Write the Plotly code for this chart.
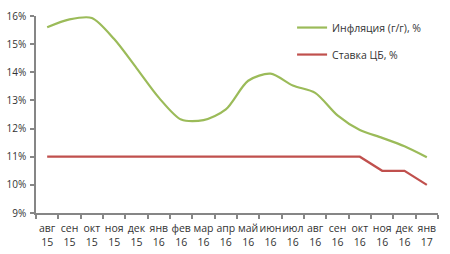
import plotly.graph_objects as go

months = ["авг", "сен", "окт", "ноя", "дек", "янв", "фев", "мар", "апр", "май",
          "июн", "июл", "авг", "сен", "окт", "ноя", "дек", "янв"]
years = ["15", "15", "15", "15", "15", "16", "16", "16", "16", "16",
         "16", "16", "16", "16", "16", "16", "16", "17"]
categories = [f"{m}<br>{y}" for m, y in zip(months, years)]

inflation = [15.6, 15.88, 15.93, 15.18, 14.15, 13.1, 12.32, 12.3, 12.68, 13.7,
             13.95, 13.53, 13.27, 12.47, 11.95, 11.67, 11.37, 10.98]
key_rate = [11, 11, 11, 11, 11, 11, 11, 11, 11, 11,
            11, 11, 11, 11, 11, 10.5, 10.5, 10]

fig = go.Figure()
fig.add_trace(go.Scatter(
    x=categories, y=inflation, mode="lines", name="Инфляция (г/г), %",
    line=dict(color="#9BBB59", width=2.2, shape="spline", smoothing=0.8),
    legendgroup="a",
))
fig.add_trace(go.Scatter(
    x=categories, y=key_rate, mode="lines", name="Ставка ЦБ, %",
    line=dict(color="#C0504D", width=2.2),
    legendgroup="b",
))

font_family = "Open Sans, Liberation Sans, sans-serif"

fig.update_layout(
    width=450, height=254,
    margin=dict(l=36, r=12, t=16, b=41),
    paper_bgcolor="white", plot_bgcolor="white",
    font=dict(family=font_family, size=10, color="#333333"),
    showlegend=True,
    legend=dict(
        x=0.637, y=1.015, xref="paper", yref="paper",
        xanchor="left", yanchor="top",
        font=dict(size=10.5, color="#333333"),
        tracegroupgap=8, bgcolor="rgba(0,0,0,0)",
    ),
    xaxis=dict(
        type="category", tickson="boundaries", tickangle=0, automargin=False,
        range=[-0.5, len(categories) - 0.5],
        showgrid=False, zeroline=False,
        showline=True, linecolor="#868686", linewidth=1.5,
        ticks="outside", ticklen=4, tickcolor="#868686", tickwidth=1.5,
        tickfont=dict(size=10.5), ticklabelstandoff=5,
    ),
    yaxis=dict(
        range=[9, 16], dtick=1, ticksuffix="%", automargin=False,
        showgrid=False, zeroline=False,
        showline=True, linecolor="#868686", linewidth=1.5,
        ticks="outside", ticklen=4, tickcolor="#868686", tickwidth=1.5,
        tickfont=dict(size=10), ticklabelstandoff=2,
    ),
)

fig.write_html("out.html")
